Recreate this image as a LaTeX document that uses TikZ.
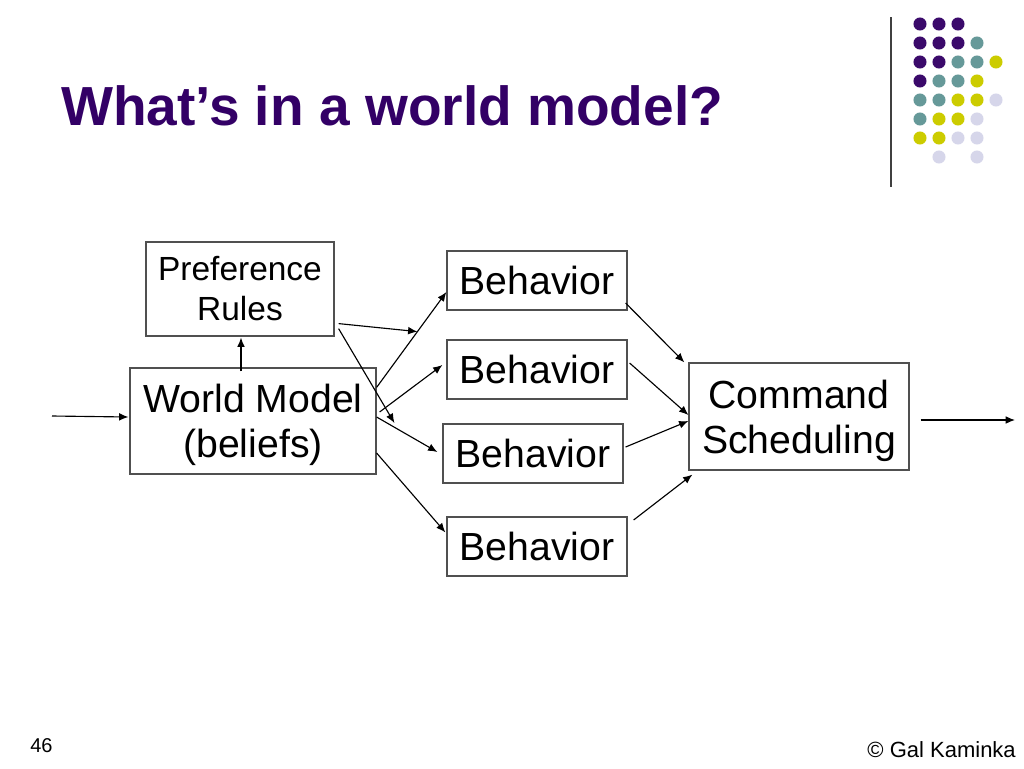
\documentclass[tikz,border=0pt]{standalone}
\usepackage{fontspec}
\setmainfont{Liberation Sans}
\usetikzlibrary{arrows.meta}
\definecolor{titlepurple}{RGB}{51,0,102}
\definecolor{dotP}{RGB}{59,10,107}
\definecolor{dotT}{RGB}{102,153,153}
\definecolor{dotY}{RGB}{204,204,0}
\definecolor{dotL}{RGB}{214,214,234}
\definecolor{boxline}{RGB}{80,80,80}
\tikzset{
  box/.style={draw=boxline, line width=0.9pt, inner sep=0pt, align=center,
    font=\fontsize{29.4pt}{33.8pt}\selectfont},
  smallbox/.style={box, font=\fontsize{25.1pt}{30pt}\selectfont},
  boxtext/.style={inner sep=0pt, align=center, font=\fontsize{29.4pt}{33.8pt}\selectfont},
  arr/.style={line width=0.85pt, -{Latex[length=7pt,width=5.8pt]}},
  dotc/.style={circle, inner sep=0pt, minimum size=9.8pt}
}
\begin{document}
\begin{tikzpicture}[x=0.75pt,y=-0.75pt]
\useasboundingbox (0,0) rectangle (1024,768);
\fill[white] (0,0) rectangle (1024,768);
% title
\node[anchor=base west, inner sep=0pt, text=titlepurple,
  font=\fontsize{41.3pt}{48pt}\selectfont\bfseries] (title) at (61,125) {What’s in a world model?};
% decoration line and dots
\draw[line width=1pt, black!75] (891,17) -- (891,187);
\foreach \r/\row in {0/{P,P,P,N,N},1/{P,P,P,T,N},2/{P,P,T,T,Y},3/{P,T,T,Y,N},4/{T,T,Y,Y,L},5/{T,Y,Y,L,N},6/{Y,Y,L,L,N},7/{N,L,N,L,N}}{
  \foreach \c [count=\i from 0] in \row {
    \if N\c\else
      \node[dotc, fill=dot\c] (d\r\i) at ({920+19*\i},{24+19*\r}) {};
    \fi
  }
}
% boxes
\node[smallbox, minimum width=188*0.75pt, minimum height=94*0.75pt] (pr) at (240,289) {Preference\\Rules};
\node[box, minimum width=246*0.75pt, minimum height=106*0.75pt] (wm) at (253,421) {};
\node[boxtext] (wmt) at (253,425) {World Model\\(beliefs)};
\node[box, minimum width=180*0.75pt, minimum height=59*0.75pt] (b1) at (537,280.5) {Behavior};
\node[box, minimum width=180*0.75pt, minimum height=59*0.75pt] (b2) at (537,369.5) {Behavior};
\node[box, minimum width=180*0.75pt, minimum height=59*0.75pt] (b3) at (533,453.5) {Behavior};
\node[box, minimum width=180*0.75pt, minimum height=59*0.75pt] (b4) at (537,546.5) {Behavior};
\node[box, minimum width=220*0.75pt, minimum height=107*0.75pt] (cs) at (799,416.5) {};
\node[boxtext] (cst) at (799,421) {Command\\Scheduling};
% free ends
\coordinate (inS) at (52,416);
\coordinate (outE) at (1015,420);
% connectors
\draw[arr] (inS) -- ([shift={(-1,-4)}]wm.west);
\draw[arr] ([shift={(11,3.5)}]cs.east) -- (outE);
\draw[arr] ([shift={(-12,4)}]wm.north) -- ([shift={(1,1)}]pr.south);
\draw[arr] ([shift={(4,-13)}]pr.south east) -- ([shift={(-29,21)}]b1.south west);
\draw[arr] ([shift={(4,-8)}]pr.south east) -- ([shift={(-48,-30.5)}]b3.west);
\draw[arr] ([shift={(0,20)}]wm.north east) -- ([shift={(0,11.5)}]b1.west);
\draw[arr] ([shift={(3,-9)}]wm.east) -- ([shift={(-4,-4.5)}]b2.west);
\draw[arr] ([shift={(0,-4)}]wm.east) -- ([shift={(-5,-1.5)}]b3.west);
\draw[arr] ([shift={(0,32)}]wm.east) -- ([shift={(-1,16)}]b4.north west);
\draw[arr] ([shift={(-2,22.5)}]b1.east) -- ([shift={(-4,0)}]cs.north west);
\draw[arr] ([shift={(2,-6.5)}]b2.east) -- ([shift={(0,-1.5)}]cs.west);
\draw[arr] ([shift={(2,-6.5)}]b3.east) -- ([shift={(0,4.5)}]cs.west);
\draw[arr] ([shift={(6,-26.5)}]b4.east) -- ([shift={(4,4)}]cs.south west);
% footer
\node[anchor=base west, inner sep=0pt, font=\fontsize{15pt}{18pt}\selectfont] (pg) at (30,752) {46};
\node[anchor=base east, inner sep=0pt, font=\fontsize{16.5pt}{20pt}\selectfont] (cr) at (1016,757) {© Gal Kaminka};
\end{tikzpicture}
\end{document}
